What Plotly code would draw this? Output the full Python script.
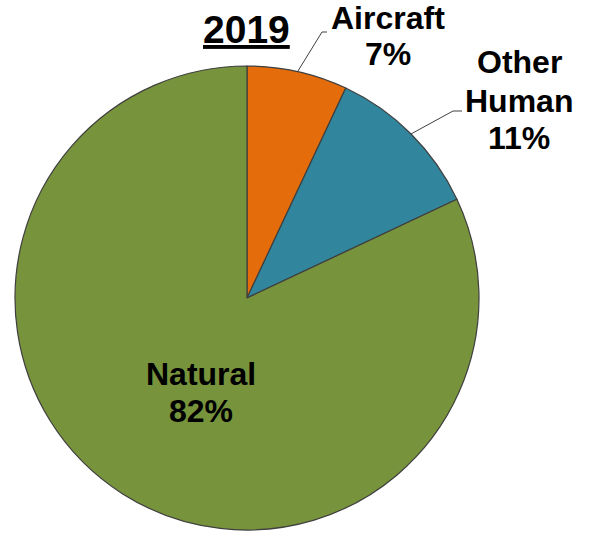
import math
import plotly.graph_objects as go

# Share of emissions by source, 2019
sources = ["Aircraft", "Other Human", "Natural"]
shares = [7, 11, 82]
colors = ["#E46C0A", "#31859C", "#77933C"]
title_text = "2019"

W, H = 589, 534
# pie placement in pixels
cx, cy, r = 247, 298, 232


def px(x):
    return x / W


def py(y):
    return 1 - y / H


fig = go.Figure(
    go.Pie(
        labels=sources,
        values=shares,
        sort=False,
        direction="clockwise",
        rotation=0,
        textinfo="none",
        hoverinfo="label+percent",
        marker=dict(colors=colors, line=dict(color="#3F3F3F", width=1.2)),
        domain=dict(x=[px(cx - r), px(cx + r)], y=[py(cy + r), py(cy - r)]),
        showlegend=False,
    )
)

FAMILY = "Liberation Sans, Arial, sans-serif"
font = dict(family=FAMILY, size=32, color="#000000")
total = sum(shares)


def edge_point(i):
    # midpoint angle of slice i, measured clockwise from 12 o'clock
    start = sum(shares[:i])
    mid = (start + shares[i] / 2) / total * 2 * math.pi
    return cx + r * math.sin(mid), cy - r * math.cos(mid)


# label lines: pixel centre x and centre y of each text line
label_x = {0: 388, 1: 519, 2: 201}
label_lines_y = {0: [18, 54], 1: [62, 101, 138], 2: [374, 411]}
elbows = {0: [(322, 32), (327, 32)], 1: [(453, 111), (462, 111)]}

annotations = []
for i, name in enumerate(sources):
    lines = name.split(" ") + [f"{shares[i]}%"]
    for text, y in zip(lines, label_lines_y[i]):
        annotations.append(
            dict(
                text=f"<b>{text}</b>",
                x=px(label_x[i]), y=py(y), xref="paper", yref="paper",
                xanchor="center", yanchor="middle", showarrow=False,
                font=font,
            )
        )

shapes = []
for i, pts in elbows.items():
    ex, ey = edge_point(i)
    path = f"M {px(ex)} {py(ey)}" + "".join(f" L {px(a)} {py(b)}" for a, b in pts)
    shapes.append(
        dict(type="path", path=path, xref="paper", yref="paper",
             line=dict(color="#404040", width=1))
    )

annotations.append(
    dict(
        text=f"<b><u>{title_text}</u></b>",
        x=px(246), y=py(29), xref="paper", yref="paper",
        xanchor="center", yanchor="middle", showarrow=False,
        font=dict(family=FAMILY, size=39, color="#000000"),
    )
)

fig.update_layout(
    width=W, height=H,
    margin=dict(l=0, r=0, t=0, b=0),
    paper_bgcolor="#FFFFFF",
    plot_bgcolor="#FFFFFF",
    annotations=annotations,
    shapes=shapes,
)

fig.write_html("out.html")
